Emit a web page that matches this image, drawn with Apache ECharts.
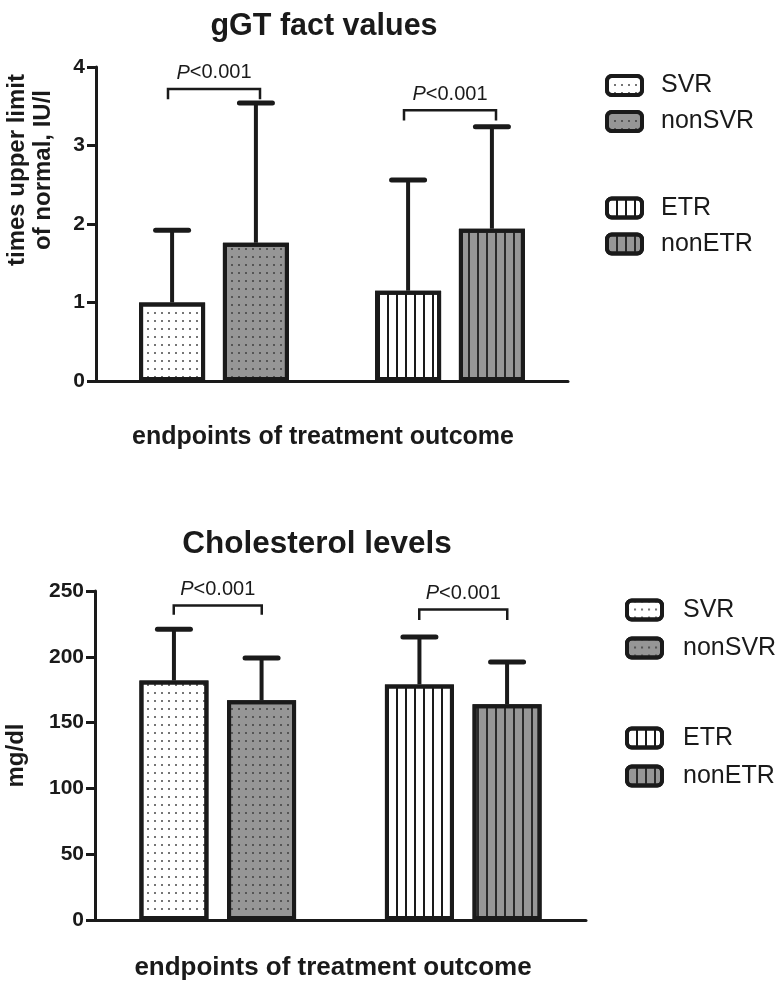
<!DOCTYPE html>
<html>
<head>
<meta charset="utf-8">
<script src="https://cdn.jsdelivr.net/npm/echarts@6/dist/echarts.min.js"></script>
<style>
  html, body { margin: 0; padding: 0; background: #fff; }
  #top { width: 781px; height: 500px; }
  #bottom { width: 781px; height: 504px; }
</style>
</head>
<body>
<div id="top"></div>
<div id="bottom"></div>
<script>
// series order: SVR, nonSVR, ETR, nonETR
const seriesNames = ['SVR', 'nonSVR', 'ETR', 'nonETR']
const groups = ['SVR vs nonSVR', 'ETR vs nonETR']
const groupOf = [0, 0, 1, 1]
const slotOf = [0, 1, 0, 1]

const gGTMeans = [1.00, 1.76, 1.15, 1.94]
const gGTUpper = [1.92, 3.54, 2.56, 3.24]
const gGTBrackets = [[3.72, 3.59], [3.45, 3.32]]
const gGTTicks = [0, 1, 2, 3, 4]

const cholMeans = [182, 167, 179, 164]
const cholUpper = [221, 199, 215, 196]
const cholBrackets = [[239, 232], [236, 228]]
const cholTicks = [0, 50, 100, 150, 200, 250]

const pLabels = ['P<0.001', 'P<0.001']

const INK = '#1a1a1a'
const FONT = '"Liberation Sans", Arial, sans-serif'
const fills = ['#ffffff', '#969696', '#ffffff', '#969696']
const decals = [
  { symbol: 'rect', symbolSize: 0.8, color: '#1a1a1a', dashArrayX: [2, 5], dashArrayY: [2, 6] },
  { symbol: 'rect', symbolSize: 0.8, color: '#2a2a2a', dashArrayX: [2, 5], dashArrayY: [2, 6] },
  { symbol: 'rect', symbolSize: 1, color: '#1a1a1a', dashArrayX: [1.5, 7], dashArrayY: [10, 0] },
  { symbol: 'rect', symbolSize: 1, color: '#2a2a2a', dashArrayX: [2, 6.5], dashArrayY: [10, 0] }
]

function buildOption(cfg) {
  const pitch = cfg.barW * (1 + cfg.gapRatio)
  const ticks = cfg.ticks

  const bars = seriesNames.map((name, i) => ({
    type: 'bar',
    name,
    stack: slotOf[i] === 0 ? 'first' : 'second',
    barWidth: cfg.barW,
    barGap: Math.round(cfg.gapRatio * 100) + '%',
    data: groups.map((g, c) => (c === groupOf[i] ? cfg.means[i] : '-')),
    itemStyle: { color: fills[i], borderColor: INK, borderWidth: 4, decal: decals[i] },
    z: 2
  }))

  // upper SD whiskers, placed on the bar slot of each series
  const errorBars = {
    type: 'custom',
    silent: true,
    z: 3,
    data: seriesNames.map((n, i) => [groupOf[i], cfg.means[i], cfg.upper[i], slotOf[i]]),
    encode: { x: 0, y: [1, 2] },
    renderItem(params, api) {
      const base = api.coord([api.value(0), api.value(1)])
      const top = api.coord([api.value(0), api.value(2)])
      const x = base[0] + (api.value(3) - 0.5) * pitch
      return {
        type: 'group',
        children: [
          { type: 'line', shape: { x1: x, y1: base[1], x2: x, y2: top[1] }, style: { stroke: INK, lineWidth: 4 } },
          { type: 'line', shape: { x1: x - 16.5, y1: top[1], x2: x + 16.5, y2: top[1] }, style: { stroke: INK, lineWidth: 5, lineCap: 'round' } }
        ]
      }
    }
  }

  const brackets = {
    type: 'custom',
    silent: true,
    z: 3,
    data: cfg.brackets.map((b, c) => [c, b[0], b[1]]),
    encode: { x: 0, y: [1, 2] },
    renderItem(params, api) {
      const top = api.coord([api.value(0), api.value(1)])
      const leg = api.coord([api.value(0), api.value(2)])
      const x = top[0]
      const h = cfg.bracketHalf
      const label = pLabels[params.dataIndex]
      return {
        type: 'group',
        children: [
          {
            type: 'polyline',
            shape: { points: [[x - h, leg[1]], [x - h, top[1]], [x + h, top[1]], [x + h, leg[1]]] },
            style: { stroke: INK, lineWidth: 2.5, fill: null }
          },
          {
            type: 'text',
            style: {
              text: '{i|' + label.charAt(0) + '}' + label.slice(1),
              x: x,
              y: top[1] - 6,
              align: 'center',
              verticalAlign: 'bottom',
              fill: INK,
              fontSize: 20,
              fontFamily: FONT,
              rich: { i: { fontStyle: 'italic', fontSize: 20, fontFamily: FONT, fill: INK } }
            }
          }
        ]
      }
    }
  }

  const legendCommon = {
    orient: 'vertical',
    left: cfg.legendLeft,
    itemWidth: 35,
    itemHeight: 19,
    itemGap: cfg.legendGap,
    selectedMode: false,
    itemStyle: { borderColor: INK, borderWidth: 4 },
    textStyle: { fontSize: 25, color: INK, fontFamily: FONT, padding: [0, 0, 0, cfg.legendTextPad] }
  }

  return {
    animation: false,
    backgroundColor: '#fff',
    title: {
      text: cfg.title,
      left: cfg.titleX,
      top: cfg.titleTop,
      textAlign: 'center',
      textStyle: { fontSize: cfg.titleSize, fontWeight: 'bold', color: INK, fontFamily: FONT }
    },
    legend: [
      Object.assign({}, legendCommon, { data: seriesNames.slice(0, 2), top: cfg.legendTops[0] }),
      Object.assign({}, legendCommon, { data: seriesNames.slice(2, 4), top: cfg.legendTops[1] })
    ],
    grid: Object.assign({ outerBoundsMode: 'none', containLabel: false }, cfg.grid),
    xAxis: {
      type: 'category',
      data: groups,
      name: 'endpoints of treatment outcome',
      nameLocation: 'middle',
      nameGap: cfg.xNameGap,
      nameTextStyle: { fontSize: cfg.xNameSize, fontWeight: 'bold', color: INK, fontFamily: FONT, padding: [0, cfg.xNameShift, 0, 0] },
      axisLine: { lineStyle: { color: INK, width: 3 } },
      axisTick: { alignWithLabel: true, length: 10, lineStyle: { color: INK, width: 3 } },
      axisLabel: { show: false },
      splitLine: { show: false }
    },
    yAxis: {
      type: 'value',
      min: ticks[0],
      max: ticks[ticks.length - 1],
      interval: ticks[1] - ticks[0],
      name: cfg.yName,
      nameLocation: 'middle',
      nameRotate: 90,
      nameGap: cfg.yNameGap,
      nameTextStyle: { fontSize: 24, fontWeight: 'bold', color: INK, fontFamily: FONT, lineHeight: 26, align: 'center', padding: [0, 0, 0, cfg.yNameShift] },
      axisLine: { show: true, lineStyle: { color: INK, width: 3 } },
      axisTick: { show: true, length: 9, lineStyle: { color: INK, width: 3 } },
      axisLabel: { fontSize: 21, fontWeight: 'bold', color: INK, fontFamily: FONT, margin: 11 },
      splitLine: { show: false }
    },
    series: bars.concat([errorBars, brackets])
  }
}

const topChart = echarts.init(document.getElementById('top'), null, { renderer: 'canvas' })
topChart.setOption(buildOption({
  title: 'gGT fact values',
  titleX: 319,
  titleTop: 6,
  titleSize: 30.5,
  yName: 'times upper limit\nof normal, IU/l',
  yNameGap: 40,
  yNameShift: 108,
  xNameGap: 44,
  xNameSize: 25,
  xNameShift: 18,
  grid: { left: 96, top: 67, width: 472, height: 314 },
  ticks: gGTTicks,
  means: gGTMeans,
  upper: gGTUpper,
  brackets: gGTBrackets,
  bracketHalf: 46,
  barW: 66,
  gapRatio: 0.27,
  legendLeft: 600,
  legendTops: [68, 190.5],
  legendGap: 11,
  legendTextPad: 14
}))

const bottomChart = echarts.init(document.getElementById('bottom'), null, { renderer: 'canvas' })
bottomChart.setOption(buildOption({
  title: 'Cholesterol levels',
  titleX: 312,
  titleTop: 23,
  titleSize: 31.5,
  yName: 'mg/dl',
  yNameGap: 66,
  yNameShift: 0,
  xNameGap: 35,
  xNameSize: 26,
  xNameShift: 15,
  grid: { left: 95, top: 91, width: 491, height: 329 },
  ticks: cholTicks,
  means: cholMeans,
  upper: cholUpper,
  brackets: cholBrackets,
  bracketHalf: 44,
  barW: 69,
  gapRatio: 0.27,
  legendLeft: 620,
  legendTops: [92.5, 220.5],
  legendGap: 13,
  legendTextPad: 16
}))
</script>
</body>
</html>
